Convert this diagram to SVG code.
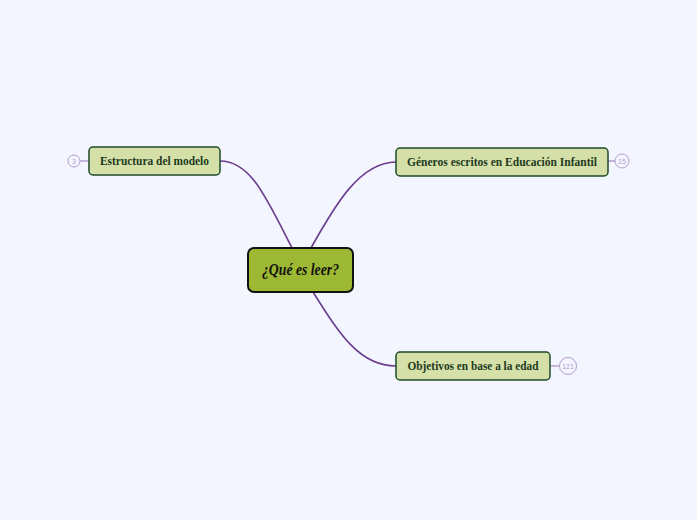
<svg xmlns="http://www.w3.org/2000/svg" width="697" height="520" viewBox="0 0 697 520">
<style>
.bg{fill:#f3f5ff}
.sub{fill:#d5e0a8;stroke:#1e4a28;stroke-width:1.5}
.subt{font-family:"Liberation Serif","DejaVu Serif",serif;font-weight:bold;font-size:11.5px;fill:#1e3a1e;text-anchor:middle}
.conn{fill:none;stroke:#6b3d8e;stroke-width:1.6}
.cnt{fill:#f3f5ff;stroke:#b59bd0;stroke-width:1}
.cntt{font-family:"Liberation Sans",sans-serif;font-size:7px;fill:#b59bd0;text-anchor:middle}
.stub{stroke:#a58cc4;stroke-width:1.2}
</style>
<rect class="bg" x="0" y="0" width="697" height="520"/>
<g id="connectors">
<path class="conn" d="M220,161 C250,161 265,195 292,248"/>
<path class="conn" d="M396,162 C360,162 335,205 311,248"/>
<path class="conn" d="M313,292 C340,335 360,366 396,366"/>
<line class="stub" x1="80" y1="161" x2="89" y2="161"/>
<line class="stub" x1="608" y1="161" x2="615" y2="161"/>
<line class="stub" x1="550" y1="366" x2="559.5" y2="366"/>
</g>
<g id="central">
<rect x="248" y="248" width="105" height="44" rx="6" fill="#9db832" stroke="#111" stroke-width="2"/>
<text x="300.5" y="275" font-family="'Liberation Serif','DejaVu Serif',serif" font-style="italic" font-weight="bold" font-size="16" fill="#111" text-anchor="middle" textLength="77" lengthAdjust="spacingAndGlyphs">¿Qué es leer?</text>
</g>
<g id="estructura">
<rect class="sub" x="89" y="147" width="131" height="28" rx="4"/>
<text class="subt" x="154.5" y="165" textLength="109" lengthAdjust="spacingAndGlyphs">Estructura del modelo</text>
<circle class="cnt" cx="74" cy="161" r="6"/>
<text class="cntt" x="74" y="163.5">3</text>
</g>
<g id="generos">
<rect class="sub" x="396" y="148" width="212" height="28" rx="4"/>
<text class="subt" x="502" y="166" textLength="190" lengthAdjust="spacingAndGlyphs">Géneros escritos en Educación Infantil</text>
<circle class="cnt" cx="622" cy="161" r="7"/>
<text class="cntt" x="622" y="163.5">15</text>
</g>
<g id="objetivos">
<rect class="sub" x="396" y="352" width="154" height="28" rx="4"/>
<text class="subt" x="473" y="370" textLength="131" lengthAdjust="spacingAndGlyphs">Objetivos en base a la edad</text>
<circle class="cnt" cx="568" cy="366" r="8.5"/>
<text class="cntt" x="568" y="368.5">121</text>
</g>
</svg>
